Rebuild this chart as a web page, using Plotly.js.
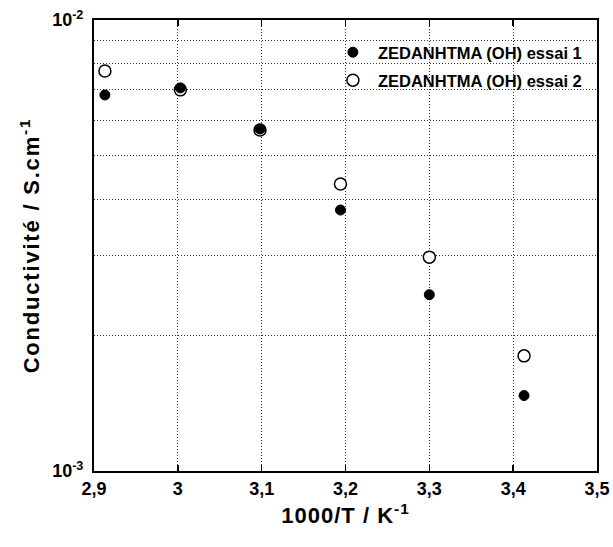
<!DOCTYPE html>
<html>
<head>
<meta charset="utf-8">
<script src="https://cdn.plot.ly/plotly-3.0.1.min.js"></script>
<style>
body{margin:0;background:#fff}
#chart{width:613px;height:547px}
.ytitle{letter-spacing:1.8px}
.xtitle{letter-spacing:1px}
</style>
</head>
<body>
<div id="chart"></div>
<script>
// Data
const invT = [2.913, 3.003, 3.098, 3.194, 3.300, 3.413];
const essai1 = [6.82e-3, 7.07e-3, 5.73e-3, 3.79e-3, 2.46e-3, 1.47e-3];
const essai2 = [7.71e-3, 7.00e-3, 5.70e-3, 4.33e-3, 2.98e-3, 1.80e-3];
const name1 = 'ZEDANHTMA (OH) essai 1';
const name2 = 'ZEDANHTMA (OH) essai 2';
const xTicks = [2.9, 3.0, 3.1, 3.2, 3.3, 3.4, 3.5];
const xTickText = ['2,9', '3', '3,1', '3,2', '3,3', '3,4', '3,5'];
const yTicks = [1e-3, 1e-2];
const yTickText = ['10<sup>-3</sup>', '10<sup>-2</sup>'];
const yMinor = [2e-3, 3e-3, 4e-3, 5e-3, 6e-3, 7e-3, 8e-3, 9e-3];

const font = 'Arial, "Liberation Sans", sans-serif';
const gridDash = '1px,2px';
const bold = s => '<b>' + s + '</b>';

const traces = [
  {
    x: invT, y: essai2, name: name2, type: 'scatter', mode: 'markers',
    marker: {symbol: 'circle', size: 12, color: '#ffffff', line: {color: '#000', width: 1.5}},
    legend: 'legend2'
  },
  {
    x: invT, y: essai1, name: name1, type: 'scatter', mode: 'markers',
    marker: {symbol: 'circle', size: 10, color: '#000', line: {color: '#000', width: 1}},
    legend: 'legend'
  }
];

const legFont = {family: font, size: 16.5, weight: 'bold', color: '#000'};

const layout = {
  width: 613, height: 547,
  margin: {l: 94, r: 16, t: 20, b: 76},
  paper_bgcolor: '#fff', plot_bgcolor: '#fff',
  font: {family: font, color: '#000', size: 18},
  showlegend: true,
  legend: {x: 0.465, y: 0.928, xanchor: 'left', yanchor: 'middle', bgcolor: 'rgba(0,0,0,0)',
           itemwidth: 40, font: legFont},
  legend2: {x: 0.465, y: 0.866, xanchor: 'left', yanchor: 'middle', bgcolor: 'rgba(0,0,0,0)',
            itemwidth: 40, font: legFont},
  xaxis: {
    range: [2.9, 3.5], tickmode: 'array', tickvals: xTicks, ticktext: xTickText.map(bold),
    ticks: 'inside', ticklen: 6, tickwidth: 1.5, tickcolor: '#000',
    showline: true, linecolor: '#000', linewidth: 2, mirror: 'ticks',
    showgrid: true, gridcolor: '#333', griddash: gridDash, gridwidth: 1,
    zeroline: false,
    tickfont: {family: font, size: 18, color: '#000'},
    title: {text: '1000/T / K<sup>-1</sup>', font: {family: font, size: 22, weight: 'bold'}, standoff: 10}
  },
  yaxis: {
    type: 'log', range: [-3, -2],
    tickmode: 'array', tickvals: yTicks, ticktext: yTickText.map(s => bold(s) + '\u00a0'),
    ticks: '',
    showline: true, linecolor: '#000', linewidth: 2, mirror: true,
    showgrid: false,
    minor: {tickvals: yMinor, showgrid: true, gridcolor: '#333', griddash: gridDash, gridwidth: 1, ticks: ''},
    zeroline: false,
    tickfont: {family: font, size: 18, color: '#000'},
    title: {text: 'Conductivité / S.cm<sup>-1</sup>', font: {family: font, size: 22, weight: 'bold'}, standoff: 6}
  }
};

Plotly.newPlot('chart', traces, layout, {displayModeBar: false, staticPlot: true});
</script>
</body>
</html>
